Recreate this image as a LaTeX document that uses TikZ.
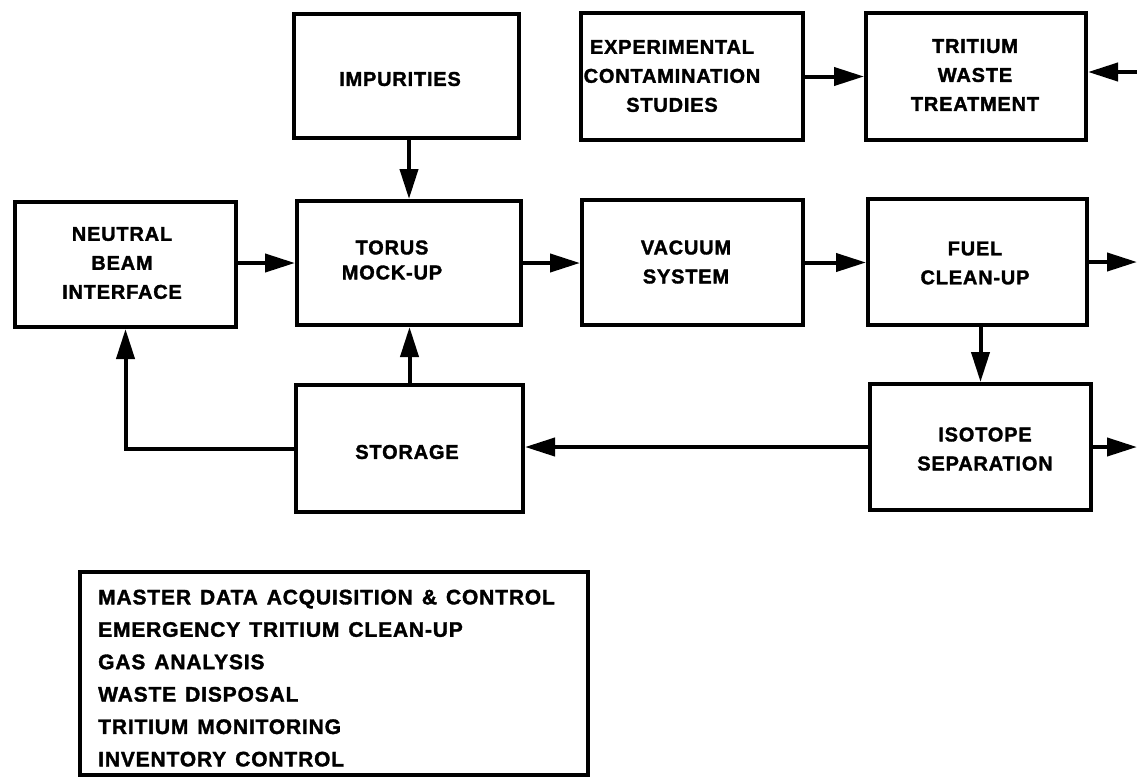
\documentclass[tikz,border=0pt]{standalone}
\usepackage{fontspec}
\newfontfamily\lettering{Liberation Sans Bold}[LetterSpace=4,FakeBold=1.6]
\usetikzlibrary{arrows.meta}
\newcommand\mylegfont{\lettering\fontsize{21}{32.4}\selectfont\spaceskip=9pt plus 2pt\relax}
\newcommand\myboxfont{\lettering\fontsize{20}{29}\selectfont}
\begin{document}
\begin{tikzpicture}[x=1pt,y=-1pt,
  box/.style={draw, line width=4pt, rectangle, inner sep=0pt},
  txt/.style={font=\myboxfont, align=center, inner sep=0pt},
  legtxt/.style={font=\mylegfont, align=left, inner sep=0pt, anchor=north west},
  arr/.style={line width=4pt, -{Triangle[length=30pt,width=18pt]}}
]
\useasboundingbox (0,0) rectangle (1137,780);
% boxes
\node[box, minimum width=225pt, minimum height=124pt] (imp)   at (406.5,76) {};
\node[box, minimum width=222pt, minimum height=127pt] (exp)   at (692,76.5) {};
\node[box, minimum width=220pt, minimum height=127pt] (twt)   at (976,76.5) {};
\node[box, minimum width=221pt, minimum height=125pt] (nb)    at (125.5,264.5) {};
\node[box, minimum width=224pt, minimum height=124pt] (torus) at (409,263) {};
\node[box, minimum width=221pt, minimum height=125pt] (vac)   at (692.5,262.5) {};
\node[box, minimum width=219pt, minimum height=126pt] (fuel)  at (977.5,262) {};
\node[box, minimum width=227pt, minimum height=127pt] (stor)  at (409.5,448.5) {};
\node[box, minimum width=221pt, minimum height=126pt] (iso)   at (980.5,447) {};
\node[box, minimum width=508pt, minimum height=203pt] (leg)   at (334,673.5) {};
% texts
\node[txt] (impt)   at (400,79)  {IMPURITIES};
\node[txt] (expt)   at (672,76)  {EXPERIMENTAL\\CONTAMINATION\\STUDIES};
\node[txt] (twtt)   at (975,75)  {TRITIUM\\WASTE\\TREATMENT};
\node[txt] (nbt)    at (122,263) {NEUTRAL\\BEAM\\INTERFACE};
\node[txt, font=\lettering\fontsize{20}{25}\selectfont] (torust) at (392,260) {TORUS\\MOCK-UP};
\node[txt] (vact)   at (686,262) {VACUUM\\SYSTEM};
\node[txt] (fuelt)  at (975,263) {FUEL\\CLEAN-UP};
\node[txt] (stort)  at (407,452) {STORAGE};
\node[txt] (isot)   at (985,449) {ISOTOPE\\SEPARATION};
\node[legtxt] (legt) at (98,589.5) {MASTER DATA ACQUISITION \& CONTROL\\
EMERGENCY TRITIUM CLEAN-UP\\
GAS ANALYSIS\\
WASTE DISPOSAL\\
TRITIUM MONITORING\\
INVENTORY CONTROL};
% free ends
\coordinate (tin)  at (1137,72);
\coordinate (fout) at (1137,262);
\coordinate (iout) at (1137,447);
% connectors
\draw[arr] (imp.south -| torus.north) -- (torus.north);
\draw[arr] (exp.east) -- (exp.east -| twt.west);
\draw[arr] (tin) -- (tin -| twt.east);
\draw[arr] (nb.east |- torus.west) -- (torus.west);
\draw[arr] (torus.east) -- (torus.east -| vac.west);
\draw[arr] (vac.east) -- (vac.east -| fuel.west);
\draw[arr] (fuel.east) -- (fout);
\draw[arr] (fuel.south -| iso.north) -- (iso.north);
\draw[arr] (iso.east) -- (iout);
\draw[arr] (iso.west) -- (iso.west -| stor.east);
\draw[arr] (stor.north) -- (stor.north |- torus.south);
\draw[arr] (stor.west) -| (nb.south);
\end{tikzpicture}
\end{document}
